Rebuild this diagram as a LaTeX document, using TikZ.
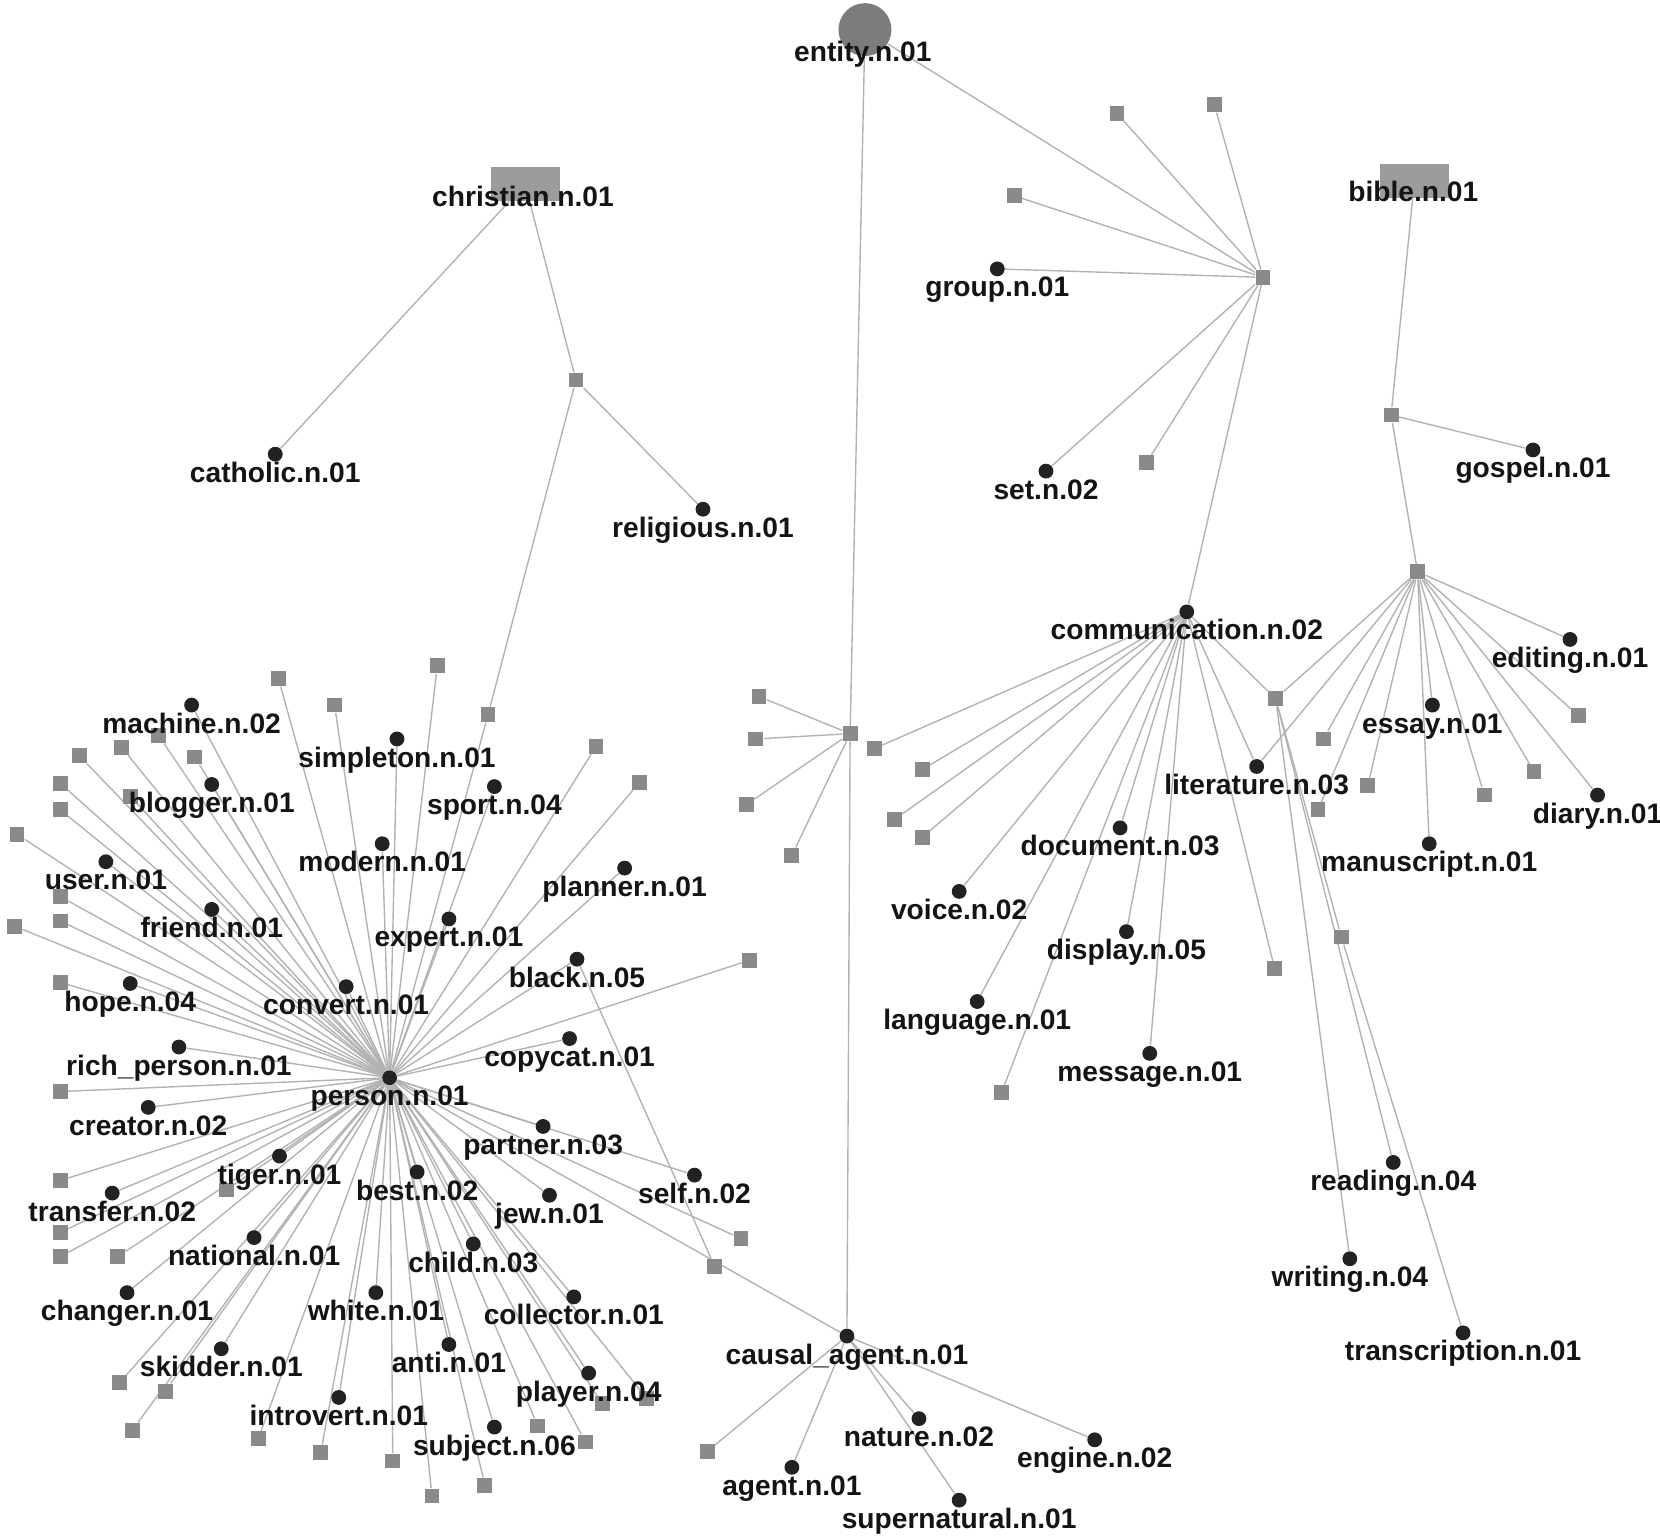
\documentclass[tikz,border=0pt]{standalone}
\usepackage{fontspec}
\setmainfont{Liberation Sans}
\definecolor{dotc}{HTML}{222222}
\definecolor{sqc}{HTML}{8A8A8A}
\definecolor{rectc}{HTML}{9C9C9C}
\definecolor{entc}{HTML}{7C7C7C}
\definecolor{edgec}{HTML}{B2B2B2}
\pgfdeclarelayer{edgelayer}
\pgfdeclarelayer{textlayer}
\pgfsetlayers{edgelayer,main,textlayer}
\tikzset{
  dotst/.style={circle,fill=dotc,inner sep=0pt,minimum size=7pt},
  sqst/.style={rectangle,fill=sqc,inner sep=0pt,minimum size=7pt},
  rootst/.style={rectangle,fill=rectc,inner sep=0pt,minimum width=32.5pt,minimum height=16pt},
  lab/.style={font=\fontsize{13.3}{14}\selectfont\bfseries,text=black!92,inner sep=0pt,anchor=base},
  edgest/.style={draw=edgec,line width=0.65pt},
}
\newcommand\mkdot[4]{\node[dotst] (#1) at (#2,#3) {};
  \begin{pgfonlayer}{textlayer}\node[lab] (#1l) at (#2,#3+26.5) {#4};\end{pgfonlayer}}
\newcommand\mksq[3]{\node[sqst] (#1) at (#2,#3) {};}
\begin{document}
\begin{tikzpicture}[x=0.5pt,y=-0.5pt]
\useasboundingbox (0,0) rectangle (1568,1454);
\begin{pgfonlayer}{edgelayer}
\fill[white] (0,0) rectangle (1568,1454);
\end{pgfonlayer}
% roots
\node[circle,fill=entc,inner sep=0pt,minimum size=25pt] (entity) at (817,28) {};
\node[rootst] (christian) at (496,174) {};
\node[rootst] (bible) at (1336,171) {};
\begin{pgfonlayer}{textlayer}
\node[lab] (entityl) at (815,58) {entity.n.01};
\node[lab] (christianl) at (494,195) {christian.n.01};
\node[lab] (biblel) at (1335,190) {bible.n.01};
\end{pgfonlayer}
% right cluster squares
\mksq{g1}{1055}{107}\mksq{g2}{1147}{99}\mksq{g3}{958}{185}\mksq{ghub}{1193}{262}\mksq{g4}{1083}{437}
\mksq{b1}{1314}{392}\mksq{lhub}{1339}{540}
\mksq{l1}{1491}{676}\mksq{l2}{1449}{729}\mksq{l3}{1402}{751}\mksq{l4}{1292}{742}
\mksq{l5}{1250}{698}\mksq{l6}{1245}{765}\mksq{l7}{1205}{660}\mksq{l8}{1267}{885}\mksq{l9}{1204}{915}
\mksq{c1}{826}{707}\mksq{c2}{871}{727}\mksq{c3}{845}{774}\mksq{c4}{871}{791}\mksq{c5}{946}{1032}
\mksq{m0}{803}{693}\mksq{m1}{717}{658}\mksq{m2}{714}{698}\mksq{m3}{705}{760}\mksq{m4}{748}{808}
\mksq{k1}{668}{1371}
% left cluster squares
\mksq{s544}{544}{359}\mksq{s461}{461}{675}\mksq{s675}{675}{1196}
\mksq{p1}{263}{641}\mksq{p2}{316}{666}\mksq{p3}{413}{629}\mksq{p4}{563}{705}\mksq{p5}{604}{739}
\mksq{p6}{708}{907}\mksq{p7}{150}{695}\mksq{p8}{75}{714}\mksq{p9}{115}{706}\mksq{p10}{184}{715}
\mksq{p11}{57}{740}\mksq{p12}{57}{765}\mksq{p13}{16}{788}\mksq{p14}{123}{752}\mksq{p15}{57}{847}
\mksq{p16}{57}{870}\mksq{p17}{14}{875}\mksq{p18}{57}{928}\mksq{p19}{57}{1031}\mksq{p20}{57}{1115}
\mksq{p21}{214}{1124}\mksq{p22}{57}{1164}\mksq{p23}{57}{1187}\mksq{p24}{111}{1187}\mksq{p25}{113}{1306}
\mksq{p26}{156}{1314}\mksq{p27}{125}{1351}\mksq{p28}{244}{1359}\mksq{p29}{303}{1372}\mksq{p30}{371}{1380}
\mksq{p31}{408}{1413}\mksq{p32}{458}{1403}\mksq{p33}{508}{1347}\mksq{p34}{553}{1362}\mksq{p35}{569}{1326}
\mksq{p36}{611}{1321}\mksq{p37}{700}{1170}
% right cluster dots
\mkdot{group}{942}{254}{group.n.01}
\mkdot{set}{988}{445}{set.n.02}
\mkdot{gospel}{1448}{425}{gospel.n.01}
\mkdot{comm}{1121}{578}{communication.n.02}
\mkdot{editing}{1483}{604}{editing.n.01}
\mkdot{essay}{1353}{666}{essay.n.01}
\mkdot{literature}{1187}{724}{literature.n.03}
\mkdot{diary}{1509}{751}{diary.n.01}
\mkdot{manuscript}{1350}{797}{manuscript.n.01}
\mkdot{document}{1058}{782}{document.n.03}
\mkdot{voice}{906}{842}{voice.n.02}
\mkdot{display}{1064}{880}{display.n.05}
\mkdot{language}{923}{946}{language.n.01}
\mkdot{message}{1086}{995}{message.n.01}
\mkdot{reading}{1316}{1098}{reading.n.04}
\mkdot{writing}{1275}{1189}{writing.n.04}
\mkdot{transcription}{1382}{1259}{transcription.n.01}
\mkdot{causal}{800}{1262}{causal\_agent.n.01}
\mkdot{nature}{868}{1340}{nature.n.02}
\mkdot{supernatural}{906}{1417}{supernatural.n.01}
\mkdot{engine}{1034}{1360}{engine.n.02}
\mkdot{agent}{748}{1386}{agent.n.01}
% left cluster dots
\mkdot{catholic}{260}{429}{catholic.n.01}
\mkdot{religious}{664}{481}{religious.n.01}
\mkdot{person}{368}{1018}{person.n.01}
\mkdot{machine}{181}{666}{machine.n.02}
\mkdot{simpleton}{375}{698}{simpleton.n.01}
\mkdot{blogger}{200}{741}{blogger.n.01}
\mkdot{sport}{467}{743}{sport.n.04}
\mkdot{modern}{361}{797}{modern.n.01}
\mkdot{user}{100}{814}{user.n.01}
\mkdot{planner}{590}{820}{planner.n.01}
\mkdot{friend}{200}{859}{friend.n.01}
\mkdot{expert}{424}{868}{expert.n.01}
\mkdot{black}{545}{906}{black.n.05}
\mkdot{hope}{123}{929}{hope.n.04}
\mkdot{convert}{327}{932}{convert.n.01}
\mkdot{copycat}{538}{981}{copycat.n.01}
\mkdot{richperson}{169}{989}{rich\_person.n.01}
\mkdot{creator}{140}{1046}{creator.n.02}
\mkdot{partner}{513}{1064}{partner.n.03}
\mkdot{tiger}{264}{1092}{tiger.n.01}
\mkdot{best}{394}{1107}{best.n.02}
\mkdot{self}{656}{1110}{self.n.02}
\mkdot{transfer}{106}{1127}{transfer.n.02}
\mkdot{jew}{519}{1129}{jew.n.01}
\mkdot{national}{240}{1169}{national.n.01}
\mkdot{child}{447}{1175}{child.n.03}
\mkdot{changer}{120}{1221}{changer.n.01}
\mkdot{white}{355}{1221}{white.n.01}
\mkdot{collector}{542}{1225}{collector.n.01}
\mkdot{anti}{424}{1270}{anti.n.01}
\mkdot{skidder}{209}{1274}{skidder.n.01}
\mkdot{player}{556}{1297}{player.n.04}
\mkdot{introvert}{320}{1320}{introvert.n.01}
\mkdot{subject}{467}{1348}{subject.n.06}
% connectors
\begin{pgfonlayer}{edgelayer}
\foreach \a/\b in {entity/ghub,entity/m0,m0/causal,ghub/g1,ghub/g2,ghub/g3,ghub/group,ghub/set,ghub/g4,ghub/comm,
  christian/catholic,christian/s544,s544/religious,s544/s461,s461/person,
  bible/b1,b1/gospel,b1/lhub,
  lhub/editing,lhub/essay,lhub/manuscript,lhub/diary,lhub/l1,lhub/l2,lhub/l3,lhub/l4,lhub/l5,lhub/l6,lhub/l7,lhub/literature,
  comm/c1,comm/c2,comm/c3,comm/c4,comm/voice,comm/language,comm/c5,comm/document,comm/display,comm/message,comm/l9,comm/literature,comm/l7,
  l7/reading,l7/writing,l7/l8,l8/transcription,
  m0/m1,m0/m2,m0/m3,m0/m4,
  causal/nature,causal/supernatural,causal/engine,causal/agent,causal/k1,causal/person,
  black/s675}
  \draw[edgest] (\a) -- (\b);
\foreach \b in {machine,simpleton,blogger,sport,modern,user,planner,friend,expert,black,hope,convert,copycat,
  richperson,creator,partner,tiger,best,self,transfer,jew,national,child,changer,white,collector,anti,skidder,
  player,introvert,subject,
  p1,p2,p3,p4,p5,p6,p7,p8,p9,p10,p11,p12,p13,p14,p15,p16,p17,p18,p19,p20,p21,p22,p23,p24,p25,
  p26,p27,p28,p29,p30,p31,p32,p33,p34,p35,p36,p37}
  \draw[edgest] (person) -- (\b);
\end{pgfonlayer}
\end{tikzpicture}
\end{document}
